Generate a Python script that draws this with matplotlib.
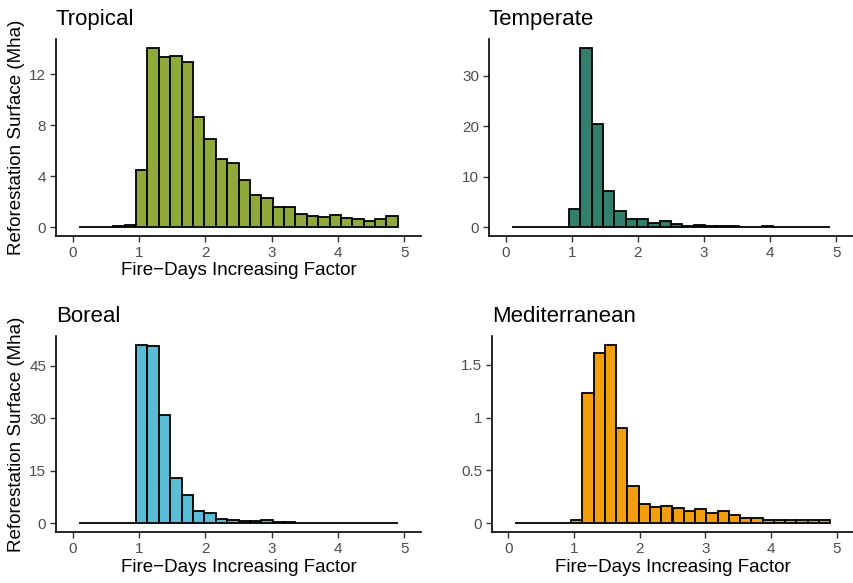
import numpy as np
import matplotlib.pyplot as plt

plt.rcParams['font.family'] = ['Liberation Sans', 'DejaVu Sans']

# histogram bins (28 bins between 0.1 and 4.9)
bin_lo, bin_hi, n_bins = 0.1, 4.9, 28

tropical = [0, 0, 0, 0.05, 0.15, 4.45, 14.05, 13.35, 13.45, 12.95, 8.65, 6.9,
            5.3, 5.05, 3.7, 2.5, 2.3, 1.6, 1.55, 1.0, 0.9, 0.8, 0.98, 0.72,
            0.65, 0.5, 0.62, 0.83]
temperate = [0, 0, 0, 0, 0, 3.65, 35.5, 20.5, 7.1, 3.1, 1.5, 1.65,
             0.9, 1.25, 0.7, 0.3, 0.5, 0.2, 0.2, 0.15, 0.1, 0.1, 0.2, 0.08,
             0.05, 0.05, 0.05, 0.05]
boreal = [0, 0, 0, 0.05, 0.1, 51.0, 50.6, 30.9, 12.9, 8.1, 3.4, 3.0,
          1.1, 0.95, 0.55, 0.55, 0.75, 0.3, 0.35, 0.15, 0.15, 0.1, 0.1, 0.08,
          0.08, 0.05, 0.1, 0.05]
mediterranean = [0, 0, 0, 0, 0, 0.03, 1.23, 1.61, 1.69, 0.905, 0.354, 0.183,
                 0.155, 0.161, 0.142, 0.114, 0.129, 0.098, 0.11, 0.073, 0.047, 0.044,
                 0.03, 0.025, 0.025, 0.025, 0.025, 0.025]

panels = [
    ("Tropical", tropical, "#8FA93B", [0, 4, 8, 12], ["0", "4", "8", "12"]),
    ("Temperate", temperate, "#327F6D", [0, 10, 20, 30], ["0", "10", "20", "30"]),
    ("Boreal", boreal, "#5BBCD6", [0, 15, 30, 45], ["0", "15", "30", "45"]),
    ("Mediterranean", mediterranean, "#F39E0C", [0, 0.5, 1, 1.5], ["0", "0.5", "1", "1.5"]),
]

W, H = 854, 583
# axes boxes in pixels: left, top, right, bottom
boxes = [(56, 39, 421, 236), (489, 39, 853, 236),
         (56, 336, 421, 532), (492, 336, 853, 532)]

edges = np.linspace(bin_lo, bin_hi, n_bins + 1)
width = edges[1] - edges[0]

fig = plt.figure(figsize=(W / 100, H / 100), dpi=100)

for i, ((name, vals, col, yt, ytl), (l, t, r, b)) in enumerate(zip(panels, boxes)):
    ax = fig.add_axes([l / W, 1 - b / H, (r - l) / W, (b - t) / H])
    ax.bar(edges[:-1], vals, width=width, align='edge', color=col,
           edgecolor='black', linewidth=1.3)
    vmax = max(vals)
    ax.set_ylim(-0.05 * vmax, 1.05 * vmax)
    ax.set_xlim(-0.25, 5.25)
    ax.set_xticks([0, 1, 2, 3, 4, 5])
    ax.set_yticks(yt)
    ax.set_yticklabels(ytl)
    for s in ['top', 'right']:
        ax.spines[s].set_visible(False)
    for s in ['left', 'bottom']:
        ax.spines[s].set_linewidth(1.2)
    ax.tick_params(colors='#4D4D4D', labelsize=11, length=4, width=1, pad=3)
    ax.tick_params(axis='both', color='#333333')
    ax.set_title(name, loc='left', fontsize=16, pad=10)
    if i != 1:
        ax.set_xlabel("Fire\u2212Days Increasing Factor", fontsize=13.5, labelpad=2)
    if i in (0, 2):
        ax.set_ylabel("Reforestation Surface (Mha)", fontsize=13.5)
        ax.yaxis.set_label_coords(-0.085, 0.5)

fig.savefig("out.png", dpi=100)
